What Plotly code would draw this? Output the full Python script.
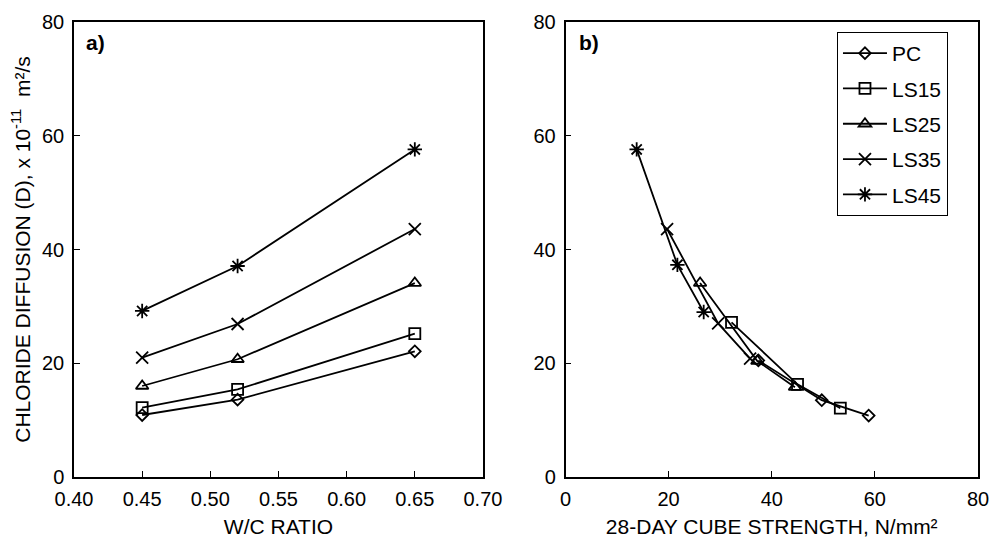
import plotly.graph_objects as go

# ---- data ----
series = ["PC", "LS15", "LS25", "LS35", "LS45"]
wc_ratio = [0.45, 0.52, 0.65]
d_pc = [10.9, 13.6, 22.1]
d_ls15 = [12.2, 15.4, 25.2]
d_ls25 = [16.0, 20.7, 34.1]
d_ls35 = [21.0, 26.9, 43.6]
d_ls45 = [29.2, 37.1, 57.6]

# panel b: strength vs D
str_pc = [37.4, 49.7, 58.8]
db_pc = [20.5, 13.5, 10.8]
str_ls15 = [32.2, 45.0, 53.3]
db_ls15 = [27.2, 16.3, 12.1]
str_ls25 = [26.1, 37.2, 44.5]
db_ls25 = [34.1, 20.4, 15.8]
str_ls35 = [19.7, 29.6, 35.8]
db_ls35 = [43.6, 27.0, 20.8]
str_ls45 = [13.8, 21.7, 26.8]
db_ls45 = [57.6, 37.3, 29.0]

x_ticks_a = [0.40, 0.45, 0.50, 0.55, 0.60, 0.65, 0.70]
x_ticks_b = [0, 20, 40, 60, 80]
y_ticks = [0, 20, 40, 60, 80]

symbols = ["diamond-open", "square-open", "triangle-up-open", "x-thin-open", "asterisk-open"]
sizes = [9, 11, 11, 12, 12]

FONT = "Liberation Sans, Arial, Helvetica, sans-serif"

fig = go.Figure()

a_data = [d_pc, d_ls15, d_ls25, d_ls35, d_ls45]
b_x = [str_pc, str_ls15, str_ls25, str_ls35, str_ls45]
b_y = [db_pc, db_ls15, db_ls25, db_ls35, db_ls45]

for i, name in enumerate(series):
    mk = dict(symbol=symbols[i], size=sizes[i], color="black",
              line=dict(color="black", width=1.8))
    fig.add_trace(go.Scatter(x=wc_ratio, y=a_data[i], mode="lines+markers", name=name,
                             line=dict(color="black", width=1.8), marker=mk,
                             xaxis="x", yaxis="y", showlegend=False,
                             legendgroup=name))
    fig.add_trace(go.Scatter(x=b_x[i], y=b_y[i], mode="lines+markers", name=name,
                             line=dict(color="black", width=1.8), marker=mk,
                             xaxis="x2", yaxis="y2", showlegend=True,
                             legendgroup=name))

axis_common = dict(showline=True, linecolor="black", linewidth=1.5, mirror=True,
                   ticks="inside", ticklen=6, tickcolor="black", tickwidth=1.2,
                   showgrid=False, zeroline=False, automargin=False,
                   tickfont=dict(family=FONT, size=20, color="black"))

fig.update_layout(
    width=993, height=538,
    margin=dict(l=74, r=15, t=22, b=61),
    paper_bgcolor="white", plot_bgcolor="white",
    font=dict(family=FONT, color="black"),
    xaxis=dict(domain=[0, 0.4524], range=[0.40, 0.70], tickvals=x_ticks_a,
               ticktext=[f"{v:.2f}" for v in x_ticks_a], ticklabelstandoff=3,
               title=dict(text="W/C RATIO", font=dict(family=FONT, size=21), standoff=12),
               anchor="y", **axis_common),
    yaxis=dict(domain=[0, 1], range=[0, 80], tickvals=y_ticks, ticklabelstandoff=4,
               title=dict(text="CHLORIDE DIFFUSION (D), x 10<sup>-11</sup>  m²/s",
                          font=dict(family=FONT, size=21), standoff=6),
               anchor="x", **axis_common),
    xaxis2=dict(domain=[0.5437, 1], range=[0, 80], tickvals=x_ticks_b, ticklabelstandoff=3,
                title=dict(text="28-DAY CUBE STRENGTH, N/mm²", font=dict(family=FONT, size=21), standoff=12),
                anchor="y2", **axis_common),
    yaxis2=dict(domain=[0, 1], range=[0, 80], tickvals=y_ticks, ticklabelstandoff=4,
                anchor="x2", **axis_common),
    legend=dict(x=0.844, y=0.978, xanchor="left", yanchor="top",
                bordercolor="black", borderwidth=1, bgcolor="white",
                font=dict(family=FONT, size=21, color="black"),
                itemwidth=44,
                traceorder="grouped", tracegroupgap=5),
    annotations=[
        dict(text="<b>a)</b>", x=0.011, y=0.956, xref="paper", yref="paper",
             xanchor="left", yanchor="middle", showarrow=False,
             font=dict(family=FONT, size=21, color="black")),
        dict(text="<b>b)</b>", x=0.556, y=0.956, xref="paper", yref="paper",
             xanchor="left", yanchor="middle", showarrow=False,
             font=dict(family=FONT, size=21, color="black")),
    ],
)

# remove the default page margin so the 993x538 figure fills the window exactly
fig.write_html("out.html",
               config={"displayModeBar": False},
               post_script="document.body.style.margin='0';document.body.style.overflow='hidden';")
